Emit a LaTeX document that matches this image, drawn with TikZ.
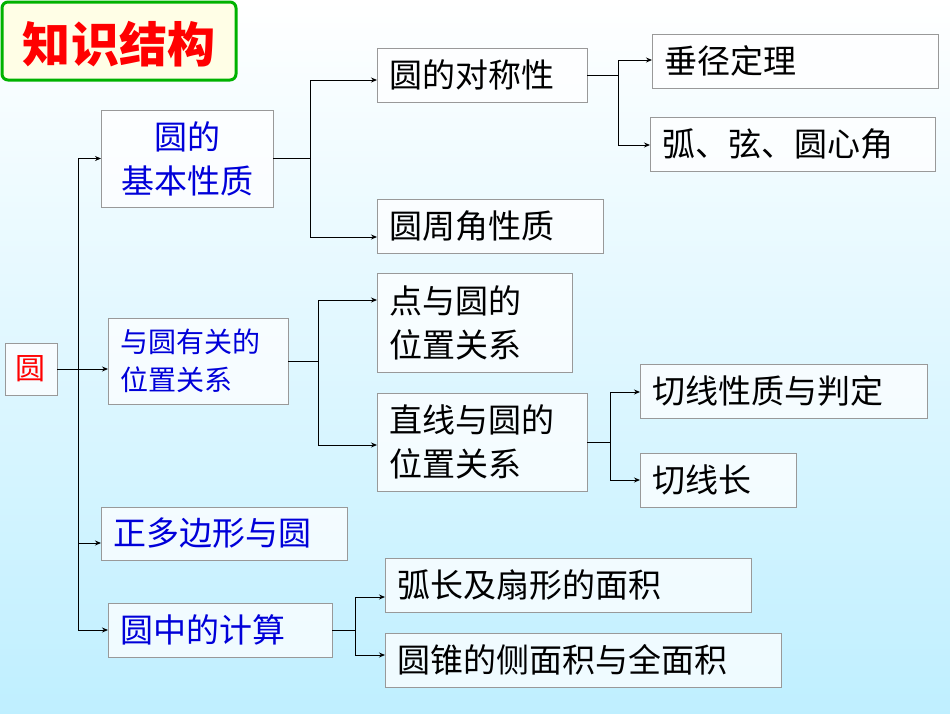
\documentclass[tikz,border=0pt]{standalone}
\usepackage{fontspec}
\newfontfamily\cjk{Noto Sans CJK SC}
\usetikzlibrary{arrows.meta}
\begin{document}
\begin{tikzpicture}[x=1pt,y=-1pt,
  bx/.style={draw=gray!80,fill=white,fill opacity=0.75,text opacity=1,line width=0.8pt},
  blk/.style={font=\cjk\fontsize{33}{44}\selectfont,text=black,anchor=west,align=left,inner sep=0pt},
  blu/.style={font=\cjk\fontsize{33}{44}\selectfont,text=blue!85!black,inner sep=0pt},
  ln/.style={line width=0.9pt,black},
  ar/.style={ln,-{Stealth[length=6pt,width=5pt]}}]
\shade[top color=white,bottom color=blue!25!cyan!25!white] (0,0) rectangle (950,713);
\useasboundingbox (0,0) rectangle (950,713);
% title
\node[draw=green!70!black,line width=3pt,rounded corners=6pt,fill=yellow!10,minimum width=234pt,minimum height=78pt] (title) at (119,41) {};
\node[font=\cjk\bfseries\fontsize{48}{52}\selectfont,text=red] (tt) at (119,44) {知识结构};
\newcommand\bxn[5]{\draw[bx] (#2,#3) rectangle (#4,#5); \coordinate (#1) at ({(#2+#4)/2},{(#3+#5)/2}); \coordinate (#1L) at (#2,{(#3+#5)/2}); \coordinate (#1R) at (#4,{(#3+#5)/2}); \coordinate (#1T) at ({#2+12},{(#3+#5)/2});}
\bxn{yuan}{5}{343}{57}{395}
\node[font=\cjk\fontsize{30}{33}\selectfont,text=red] at (yuan) {圆};
\bxn{a}{101}{110}{273}{207}
\node[blu,align=center] at (a) {圆的\\基本性质};
\bxn{b}{108}{318}{288}{404}
\node[blu,align=left,anchor=west,font=\cjk\fontsize{28}{38}\selectfont] at (bT) {与圆有关的\\位置关系};
\bxn{c}{101}{507}{347}{560}
\node[blu,anchor=west] at (cT) {正多边形与圆};
\bxn{d}{108}{603}{332}{657}
\node[blu,anchor=west] at (dT) {圆中的计算};
\bxn{a1}{377}{48}{587}{102}
\node[blk] at (a1T) {圆的对称性};
\bxn{a2}{377}{199}{603}{253}
\node[blk] at (a2T) {圆周角性质};
\bxn{b1}{377}{273}{572}{372}
\node[blk] at (b1T) {点与圆的\\位置关系};
\bxn{b2}{377}{393}{587}{491}
\node[blk] at (b2T) {直线与圆的\\位置关系};
\bxn{a11}{652}{34}{938}{88}
\node[blk] at (a11T) {垂径定理};
\bxn{a12}{650}{117}{935}{171}
\node[blk] at (a12T) {弧、弦、圆心角};
\bxn{b21}{640}{364}{927}{418}
\node[blk] at (b21T) {切线性质与判定};
\bxn{b22}{640}{453}{796}{507}
\node[blk] at (b22T) {切线长};
\bxn{d1}{385}{558}{751}{612}
\node[blk] at (d1T) {弧长及扇形的面积};
\bxn{d2}{385}{633}{781}{687}
\node[blk] at (d2T) {圆锥的侧面积与全面积};
% connectors
\draw[ln] (yuanR) -- (78,369);
\draw[ln] (78,158.5) -- (78,630);
\draw[ar] (78,158.5) -- (aL);
\draw[ar] (78,369) -- (108,369);
\draw[ar] (78,543) -- (101,543);
\draw[ar] (78,630) -- (dL);
\draw[ln] (aR) -- (310,158.5); \draw[ln] (310,80) -- (310,237);
\draw[ar] (310,80) -- (377,80); \draw[ar] (310,237) -- (377,237);
\draw[ln] (bR) -- (318,361); \draw[ln] (318,300) -- (318,445);
\draw[ar] (318,300) -- (377,300); \draw[ar] (318,445) -- (377,445);
\draw[ln] (a1R) -- (618,75); \draw[ln] (618,60) -- (618,145);
\draw[ar] (618,60) -- (652,60); \draw[ar] (618,145) -- (650,145);
\draw[ln] (b2R) -- (610,442); \draw[ln] (610,392) -- (610,480);
\draw[ar] (610,392) -- (640,392); \draw[ar] (610,480) -- (640,480);
\draw[ln] (dR) -- (355,630); \draw[ln] (355,597) -- (355,655);
\draw[ar] (355,597) -- (385,597); \draw[ar] (355,655) -- (385,655);
\end{tikzpicture}
\end{document}
